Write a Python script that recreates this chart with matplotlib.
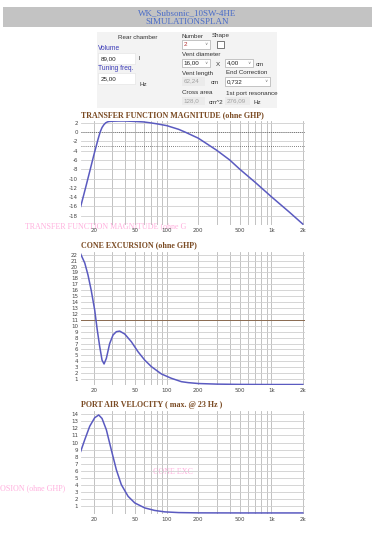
import matplotlib
matplotlib.use("Agg")
import matplotlib.pyplot as plt
from matplotlib.patches import Rectangle

# header / form values
title_lines = ["WK_Subsonic_10SW-4HE", "SIMULATIONSPLAN"]
volume = "89,00"
tuning = "25,00"
vent_number = "2"
vent_d1 = "16,00"
vent_d2 = "4,00"
vent_length = "62,24"
end_corr = "0,732"
cross_area = "128,0"
port_res = "276,09"

# transfer function magnitude (dB)
tf_freq = [15, 16, 17, 18, 19, 20, 21, 22, 23, 24, 25, 26, 27, 28, 30, 35, 40, 50, 60, 70,
           80, 100, 130, 150, 200, 300, 400, 500, 700, 1000, 1500, 2000]
tf_db = [-16.0, -13.6, -11.3, -9.1, -7.0, -5.0, -3.2, -1.5, 0.0, 1.0, 1.6, 2.0, 2.2, 2.3,
         2.35, 2.4, 2.4, 2.3, 2.2, 2.0, 1.8, 1.4, 0.6, 0.0, -1.3, -3.9, -6.0, -8.0, -10.8,
         -13.9, -17.3, -19.8]

# cone excursion (mm)
ex_freq = [15, 16.4, 17.6, 18.9, 20.4, 21.6, 22.8, 24.0, 25.1, 26.4, 28.4, 30.6, 32.9, 35.4,
           39.6, 45.8, 53.1, 61.5, 71.2, 88.8, 110.7, 138, 160, 200, 300, 500, 1000, 2000]
ex_mm = [22.1, 20.6, 18.6, 16.0, 12.7, 9.3, 6.5, 4.2, 3.55, 4.5, 7.0, 8.45, 9.0, 9.1,
         8.6, 7.3, 5.6, 4.2, 3.1, 1.86, 1.13, 0.56, 0.4, 0.25, 0.15, 0.1, 0.08, 0.08]
xmax_line = 11

# port air velocity (m/s)
pv_freq = [15, 16.4, 18.3, 20.4, 22.3, 24.0, 26.4, 29.4, 32.9, 36.7, 42.6, 49.4, 61.5,
           76.7, 95.7, 130, 200, 500, 1000, 2000]
pv_ms = [8.75, 10.4, 12.3, 13.5, 13.9, 13.4, 11.8, 9.0, 6.15, 4.05, 2.4, 1.46, 0.76,
         0.4, 0.2, 0.1, 0.06, 0.05, 0.05, 0.05]

xticks = [20, 50, 100, 200, 500, 1000, 2000]
xtick_labels = ["20", "50", "100", "200", "500", "1k", "2k"]
vgrid = [20, 30, 40, 50, 60, 70, 80, 90, 100, 200, 300, 400, 500, 600, 700, 800, 900, 1000, 2000]

W, H = 375, 534
fig = plt.figure(figsize=(W / 100, H / 100), dpi=100)
fig.patch.set_facecolor("white")

# pixel-space background axes for header and form
bg = fig.add_axes([0, 0, 1, 1])
bg.set_xlim(0, W)
bg.set_ylim(H, 0)
bg.axis("off")

blue = "#4a6cc8"
serif = ["Liberation Serif", "DejaVu Serif"]
sans = ["Liberation Sans", "DejaVu Sans"]

bg.add_patch(Rectangle((3, 7), 369, 20, color="#c3c3c3", lw=0))
bg.text(187, 13, title_lines[0], ha="center", va="center", fontsize=6.5, color=blue, family=serif)
bg.text(187, 22, title_lines[1], ha="center", va="center", fontsize=6.5, color=blue, family=serif)

# form panel
bg.add_patch(Rectangle((97, 32), 180, 76, color="#f3f3f3", lw=0))
fs = 4.5
bg.text(138, 37.5, "Rear chamber", ha="center", va="center", fontsize=fs, color="#333333", family=sans)
bg.text(98, 48, "Volume", va="center", fontsize=fs + 0.3, color="#3a3ab8", family=sans)
bg.add_patch(Rectangle((98, 53), 37, 10.5, facecolor="white", edgecolor="#e0e0e0", lw=0.4))
bg.text(101, 58.3, volume, va="center", fontsize=fs, color="#222222", family=sans)
bg.text(139, 58.5, "l", va="center", fontsize=fs, color="#333333", family=sans)
bg.text(98, 69, "Tuning freq.", va="center", fontsize=fs + 0.3, color="#3a3ab8", family=sans)
bg.add_patch(Rectangle((98, 73), 37, 11, facecolor="white", edgecolor="#e0e0e0", lw=0.4))
bg.text(101, 78.5, tuning, va="center", fontsize=fs, color="#222222", family=sans)
bg.text(139, 84, "Hz", va="center", fontsize=fs, color="#333333", family=sans)


def dropdown(x, y, w, h, txt, col="#222222"):
    bg.add_patch(Rectangle((x, y), w, h, facecolor="white", edgecolor="#9a9a9a", lw=0.4))
    bg.text(x + 1.5, y + h / 2, txt, va="center", fontsize=fs, color=col, family=sans)
    bg.text(x + w - 4, y + h / 2, "\u2228", va="center", ha="center", fontsize=3.2, color="#777777", family=sans)


def grayfield(x, y, w, h, txt):
    bg.add_patch(Rectangle((x, y), w, h, facecolor="#ebebeb", edgecolor="none"))
    bg.text(x + 1.5, y + h / 2, txt, va="center", fontsize=fs, color="#a0a0a0", family=sans)


bg.text(182, 36, "Number", va="center", fontsize=fs, color="#333333", family=sans)
bg.text(212, 36, "Shape", va="center", fontsize=fs, color="#333333", family=sans)
dropdown(182, 40, 28, 8.5, vent_number, col="#b03030")
bg.add_patch(Rectangle((217, 41), 7, 7, facecolor="white", edgecolor="#444444", lw=0.5))
bg.text(182, 54.5, "Vent diameter", va="center", fontsize=fs, color="#333333", family=sans)
dropdown(182, 58.5, 28, 8.5, vent_d1)
bg.text(216, 64, "X", va="center", fontsize=fs, color="#333333", family=sans)
dropdown(225, 58.5, 28, 8.5, vent_d2)
bg.text(256, 64, "cm", va="center", fontsize=fs, color="#333333", family=sans)
bg.text(182, 73, "Vent length", va="center", fontsize=fs, color="#333333", family=sans)
bg.text(226, 73, "End Correction", va="center", fontsize=fs, color="#333333", family=sans)
grayfield(182, 77, 23, 8.5, vent_length)
bg.text(211, 83, "cm", va="center", fontsize=fs, color="#333333", family=sans)
dropdown(225, 77, 45, 9, end_corr)
bg.text(182, 93, "Cross area", va="center", fontsize=fs, color="#333333", family=sans)
bg.text(226, 93, "1st port resonance", va="center", fontsize=fs, color="#333333", family=sans)
grayfield(182, 97, 23, 8, cross_area)
bg.text(209, 103, "cm^2", va="center", fontsize=fs, color="#333333", family=sans)
grayfield(225, 97, 25, 8, port_res)
bg.text(254, 103, "Hz", va="center", fontsize=fs, color="#333333", family=sans)

# faint ghost artefacts from the screen capture
bg.text(25, 226, "TRANSFER FUNCTION MAGNITUDE (ohne G", va="center", fontsize=5.8, color="#ff8fd0",
        family=serif, alpha=0.7)
bg.text(153, 472, "CONE EXC", va="center", fontsize=5.8, color="#ff8fd0", family=serif, alpha=0.7)
bg.text(0, 488, "OSION (ohne GHP)", va="center", fontsize=5.8, color="#ff8fd0", family=serif, alpha=0.7)

title_color = "#7a4a22"
line_color = "#5a5ac0"


def chart(rect, title, freq, vals, ylim, yticks):
    ax = fig.add_axes(rect)
    ax.set_xscale("log")
    ax.set_xlim(15, 2100)
    ax.set_ylim(*ylim)
    ax.patch.set_alpha(0)
    for s in ax.spines.values():
        s.set_visible(False)
    for f in vgrid:
        ax.axvline(f, color="#b8b8b8", lw=0.6, zorder=1)
    for v in yticks:
        ax.axhline(v, color="#cfcfcf", lw=0.6, zorder=1)
    ax.plot(freq, vals, color=line_color, lw=1.1, zorder=3, solid_joinstyle="round")
    ax.set_xticks(xticks)
    ax.set_xticklabels(xtick_labels)
    ax.minorticks_off()
    ax.set_yticks(yticks)
    ax.set_yticklabels([str(v) for v in yticks])
    ax.tick_params(length=0, labelsize=4, colors="#444444", pad=2)
    ax.text(0.0, 1.02, title, transform=ax.transAxes, fontsize=5.8, fontweight="bold",
            color=title_color, family=serif, va="bottom", ha="left")
    return ax


ax1 = chart([80.7 / W, 1 - 225 / H, 224.3 / W, 104 / H], "TRANSFER FUNCTION MAGNITUDE (ohne GHP)",
            tf_freq, tf_db, (-20, 2.4), list(range(-18, 3, 2)))
ax1.axhline(0, color="#555555", lw=0.6, ls=(0, (1, 1.5)), zorder=2)
ax1.axhline(-3, color="#555555", lw=0.6, ls=(0, (1, 1.5)), zorder=2)

ax2 = chart([80.7 / W, 1 - 385 / H, 224.3 / W, 132.7 / H], "CONE EXCURSION (ohne GHP)",
            ex_freq, ex_mm, (0, 22.4), list(range(1, 23)))
ax2.axhline(xmax_line, color="#8a6a50", lw=0.7, zorder=2)

ax3 = chart([80.7 / W, 1 - 514 / H, 224.3 / W, 103.3 / H], "PORT AIR VELOCITY ( max. @ 23 Hz )",
            pv_freq, pv_ms, (-0.1, 14.5), list(range(1, 15)))

fig.savefig("out.png", dpi=100)
